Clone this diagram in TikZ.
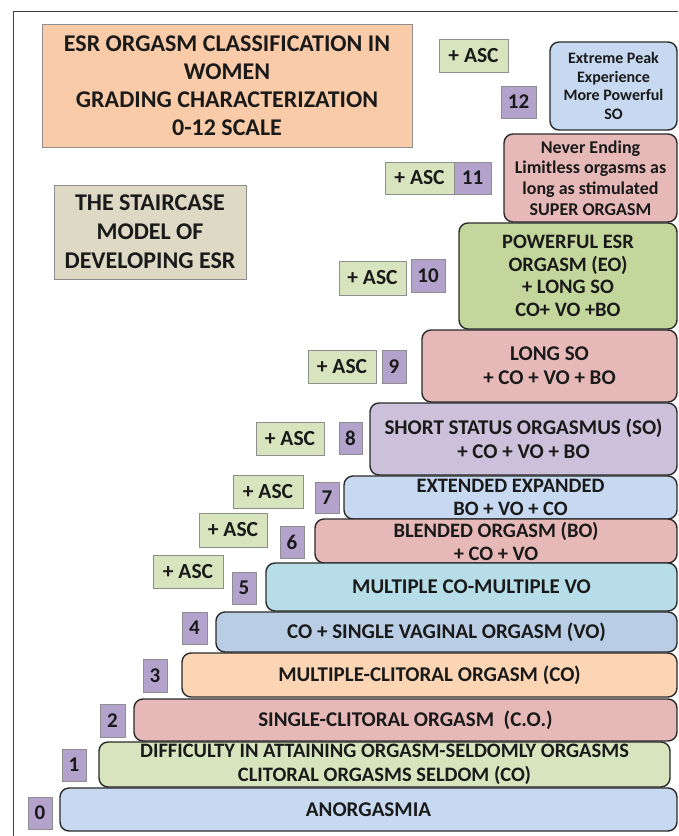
\documentclass[tikz,border=0pt]{standalone}
\usepackage{fontspec}
\setmainfont{Carlito}
\definecolor{boxline}{HTML}{2A2A2A}
\definecolor{lblline}{HTML}{8E8E8E}
\definecolor{txt}{HTML}{1A1A1A}
\definecolor{titleorange}{HTML}{FACBA8}
\definecolor{tan}{HTML}{DDD9C4}
\definecolor{ascgreen}{HTML}{D8E4BE}
\definecolor{numpurple}{HTML}{B3A3CC}
\definecolor{lblue}{HTML}{C6D9F1}
\definecolor{pink}{HTML}{E6B9B8}
\definecolor{green}{HTML}{C3D69B}
\definecolor{lav}{HTML}{CCC1DA}
\definecolor{cyan}{HTML}{B7DEE8}
\definecolor{steel}{HTML}{B9CDE5}
\definecolor{peach}{HTML}{FCD5B5}
\definecolor{lgreen}{HTML}{D7E4BD}
\tikzset{
  fs/.style 2 args={font=\bfseries\fontsize{#1}{#2}\selectfont},
  stairbox/.style={draw=boxline, line width=1.4pt, rounded corners=9pt, align=center, inner sep=0pt, text=txt},
  lblbox/.style={draw=lblline, line width=1pt, inner sep=0pt, align=center, text=txt},
  ascbox/.style={lblbox, fill=ascgreen, fs={21.5}{24}},
  numbox/.style={lblbox, fill=numpurple, fs={21}{24}},
  sz/.style 2 args={minimum width=#1pt, minimum height=#2pt},
}
\begin{document}
\begin{tikzpicture}[x=1pt,y=-1pt]
\useasboundingbox (0,0) rectangle (678,836);
\fill[white] (0,0) rectangle (678,836);
\draw[line width=1pt, color=black!75] (13,836) -- (13,11) -- (678,11);

% header boxes
\node[lblbox, fill=titleorange, sz={370}{123}, fs={24}{28}] (title) at (227,85.5)
  {ESR ORGASM CLASSIFICATION IN\\WOMEN\\GRADING CHARACTERIZATION\\0-12 SCALE};
\node[lblbox, fill=tan, sz={192}{94}, fs={24}{29}] (model) at (150,232)
  {THE STAIRCASE\\MODEL OF\\DEVELOPING ESR};

% staircase
\node[stairbox, fill=lblue, sz={127}{88}, fs={16}{18.7}] (b12) at (613.5,86)
  {Extreme Peak\\Experience\\More Powerful\\SO};
\node[stairbox, fill=pink, sz={173}{88}, fs={18}{20.7}] (b11) at (590.5,178)
  {Never Ending\\Limitless orgasms as\\long as stimulated\\SUPER ORGASM};
\node[stairbox, fill=green, sz={218}{106}, fs={20.5}{22.5}] (b10) at (568,276)
  {POWERFUL ESR\\ORGASM (EO)\\+ LONG SO\\CO+ VO +BO};
\node[stairbox, fill=pink, sz={255}{72}, fs={21}{24}] (b9) at (549.5,366)
  {LONG SO\\+ CO + VO + BO};
\node[stairbox, fill=lav, sz={307}{72}, fs={21}{24}] (b8) at (523.5,439)
  {SHORT STATUS ORGASMUS (SO)\\+ CO + VO + BO};
\node[stairbox, fill=lblue, sz={333}{43}, fs={20.5}{23}] (b7) at (510.5,497.5)
  {EXTENDED EXPANDED\\BO + VO + CO};
\node[stairbox, fill=pink, sz={362}{44}, fs={20.5}{23}] (b6) at (496,541)
  {BLENDED ORGASM (BO)\\+ CO + VO};
\node[stairbox, fill=cyan, sz={411}{48}, fs={21}{24}] (b5) at (471.5,587)
  {MULTIPLE CO-MULTIPLE VO};
\node[stairbox, fill=steel, sz={461}{40}, fs={21}{24}] (b4) at (446.5,632)
  {CO + SINGLE VAGINAL ORGASM (VO)};
\node[stairbox, fill=peach, sz={495}{44}, fs={21}{24}] (b3) at (429.5,675)
  {MULTIPLE-CLITORAL ORGASM (CO)};
\node[stairbox, fill=pink, sz={543}{42}, fs={21}{24}] (b2) at (405.5,720)
  {SINGLE-CLITORAL ORGASM\ \ (C.O.)};
\node[stairbox, fill=lgreen, sz={571}{45}, fs={20.5}{24}] (b1) at (384.5,764.5)
  {DIFFICULTY IN ATTAINING ORGASM-SELDOMLY ORGASMS\\CLITORAL ORGASMS SELDOM (CO)};
\node[stairbox, fill=lblue, sz={617}{43}, fs={21}{24}] (b0) at (368.5,809.5)
  {ANORGASMIA};

% + ASC labels
\node[ascbox, sz={69}{33}] (a12) at (473.5,55.5) {+ ASC};
\node[ascbox, sz={69}{32}] (a11) at (419.5,178) {+ ASC};
\node[ascbox, sz={67}{34}] (a10) at (372.5,278) {+ ASC};
\node[ascbox, sz={68}{33}] (a9) at (342,366.5) {+ ASC};
\node[ascbox, sz={68}{33}] (a8) at (290,438.5) {+ ASC};
\node[ascbox, sz={70}{33}] (a7) at (268,491.5) {+ ASC};
\node[ascbox, sz={68}{34}] (a6) at (233,530) {+ ASC};
\node[ascbox, sz={70}{33}] (a5) at (188,571.5) {+ ASC};

% grade numbers
\node[numbox, sz={35}{32}] (n12) at (518.5,102) {12};
\node[numbox, sz={37}{32}] (n11) at (472.5,178) {11};
\node[numbox, sz={34}{33}] (n10) at (428,275.5) {10};
\node[numbox, sz={24}{33}] (n9) at (394,366.5) {9};
\node[numbox, sz={23}{32}] (n8) at (350.5,438) {8};
\node[numbox, sz={24}{31}] (n7) at (327,497.5) {7};
\node[numbox, sz={24}{32}] (n6) at (292,542) {6};
\node[numbox, sz={24}{32}] (n5) at (244,588) {5};
\node[numbox, sz={25}{32}] (n4) at (194.5,628) {4};
\node[numbox, sz={24}{33}] (n3) at (155,675.5) {3};
\node[numbox, sz={25}{33}] (n2) at (112.5,720.5) {2};
\node[numbox, sz={24}{32}] (n1) at (74,765) {1};
\node[numbox, sz={24}{32}] (n0) at (40,813) {0};
\end{tikzpicture}
\end{document}
